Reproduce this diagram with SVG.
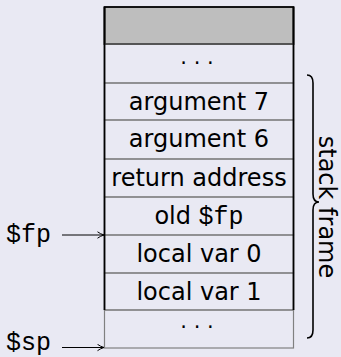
<svg xmlns="http://www.w3.org/2000/svg" width="341" height="357" viewBox="0 0 341 357">
<defs>
<style>
.bg{fill:#e9e9f3}
.cell{fill:none;stroke:#808080;stroke-width:1.2}
.edge{fill:none;stroke:#000;stroke-width:1.8}
.lbl{font-family:"DejaVu Sans",sans-serif;font-size:24px;fill:#000;text-anchor:middle}
.dots{font-family:"DejaVu Sans",sans-serif;font-size:21px;fill:#000;text-anchor:middle}
.mono{font-family:"Liberation Mono","DejaVu Sans Mono",monospace}
.ptr{font-family:"Liberation Mono","DejaVu Sans Mono",monospace;font-size:25px;fill:#000}
.conn{fill:none;stroke:#000;stroke-width:1}
</style>
<marker id="arr" viewBox="0 0 8 8" refX="7.5" refY="4" markerWidth="8" markerHeight="8" markerUnits="userSpaceOnUse" orient="auto">
<path d="M1,0.8 Q4,3 7.5,4 Q4,5 1,7.2" fill="none" stroke="#000" stroke-width="1"/>
</marker>
</defs>
<rect class="bg" x="0" y="0" width="341" height="357"/>

<g id="top">
<rect x="104.5" y="7" width="189" height="37" fill="#bebebe" stroke="#000" stroke-width="1.8"/>
</g>
<g id="dots-top">
<rect class="cell" x="104.5" y="44" width="189" height="39"/>
<text class="dots" x="197" y="70">· · ·</text>
</g>
<g id="arg7">
<rect class="cell" x="104.5" y="83" width="189" height="37"/>
<text class="lbl" x="199" y="110">argument 7</text>
</g>
<g id="arg6">
<rect class="cell" x="104.5" y="120" width="189" height="39"/>
<text class="lbl" x="199" y="147">argument 6</text>
</g>
<g id="retaddr">
<rect class="cell" x="104.5" y="159" width="189" height="38"/>
<text class="lbl" x="199" y="186">return address</text>
</g>
<g id="oldfp">
<rect class="cell" x="104.5" y="197" width="189" height="38"/>
<text class="lbl" x="199" y="224">old <tspan class="mono" font-size="25">$fp</tspan></text>
</g>
<g id="local0">
<rect class="cell" x="104.5" y="235" width="189" height="38"/>
<text class="lbl" x="199" y="262">local var 0</text>
</g>
<g id="local1">
<rect class="cell" x="104.5" y="273" width="189" height="37"/>
<text class="lbl" x="199" y="300">local var 1</text>
</g>
<g id="dots-bottom">
<rect class="cell" x="104.5" y="310" width="189" height="38"/>
<text class="dots" x="197" y="334">· · ·</text>
</g>
<g id="frame-edges">
<line class="edge" x1="104.5" y1="7" x2="104.5" y2="310"/>
<line class="edge" x1="293.5" y1="7" x2="293.5" y2="310"/>
</g>

<g id="fp-label"><text class="ptr" x="6" y="242">$fp</text></g>
<g id="sp-label"><text class="ptr" x="6" y="350">$sp</text></g>

<g id="brace">
<path d="M307,75 Q313,75 313,83 L313,194 Q313,202 319,202 Q313,202 313,210 L313,330 Q313,338 307,338" fill="none" stroke="#000" stroke-width="1.6"/>
<text class="lbl" transform="translate(319,207) rotate(90)" x="0" y="0">stack frame</text>
</g>

<g id="connectors">
<line class="conn" x1="62" y1="235" x2="104" y2="235" marker-end="url(#arr)"/>
<line class="conn" x1="62" y1="347.5" x2="104" y2="347.5" marker-end="url(#arr)"/>
</g>
</svg>
